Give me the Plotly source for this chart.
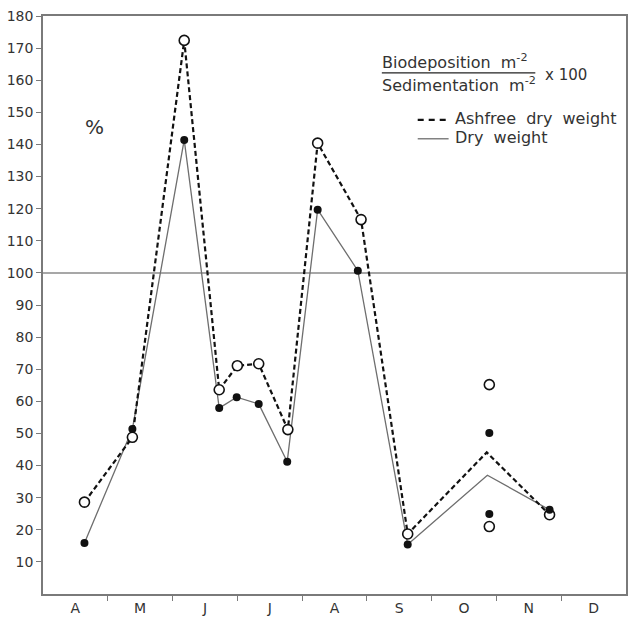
import plotly.graph_objects as go

# ---- data ----
month_labels = ["A", "M", "J", "J", "A", "S", "O", "N", "D"]
month_centers = [0.5, 1.5, 2.5, 3.5, 4.5, 5.5, 6.5, 7.5, 8.5]
month_bounds = [1, 2, 3, 4, 5, 6, 7, 8]

y_ticks = [10, 20, 30, 40, 50, 60, 70, 80, 90, 100, 110, 120, 130, 140, 150, 160, 170, 180]

ashfree_x = [0.64, 1.38, 2.18, 2.72, 3.00, 3.33, 3.78, 4.24, 4.91, 5.63, 6.85, 7.82]
ashfree_y = [28.6, 48.8, 172.4, 63.6, 71.1, 71.7, 51.2, 140.4, 116.6, 18.7, 44.1, 24.7]
dry_x = [0.64, 1.38, 2.18, 2.72, 2.99, 3.33, 3.77, 4.24, 4.86, 5.63, 6.86, 7.82]
dry_y = [15.9, 51.4, 141.4, 57.9, 61.3, 59.2, 41.2, 119.7, 100.7, 15.4, 37.0, 26.2]

# November: line vertex is the mean of two replicate samples (no marker at vertex)
nov_index = 10
nov_x = 6.89
ashfree_nov = [65.2, 21.0]
dry_nov = [50.1, 24.9]

ref_level = 100

legend_names = ["Ashfree\u00a0\u00a0dry\u00a0\u00a0weight", "Dry\u00a0\u00a0weight"]

FONT = "DejaVu Sans"
AX = "#7a7a7a"
TXT = "#333333"
DASH_COLOR = "#111111"
SOLID_COLOR = "#6e6e6e"

W, H = 629, 617
L, R, T, B = 43, 1, 16, 22


def px(xpix):
    return (xpix - L) / (W - L - R)


def py(ypix):
    return (H - B - ypix) / (H - B - T)


fig = go.Figure()

fig.add_trace(go.Scatter(
    x=dry_x, y=dry_y, mode="lines", name="Dry weight",
    line=dict(color=SOLID_COLOR, width=1.3),
))
fig.add_trace(go.Scatter(
    x=ashfree_x, y=ashfree_y, mode="lines", name="Ashfree dry weight",
    line=dict(color=DASH_COLOR, width=2.2, dash="5px,3px"),
))

open_x = [v for i, v in enumerate(ashfree_x) if i != nov_index] + [nov_x] * len(ashfree_nov)
open_y = [v for i, v in enumerate(ashfree_y) if i != nov_index] + ashfree_nov
fill_x = [v for i, v in enumerate(dry_x) if i != nov_index] + [nov_x] * len(dry_nov)
fill_y = [v for i, v in enumerate(dry_y) if i != nov_index] + dry_nov

fig.add_trace(go.Scatter(
    x=open_x, y=open_y, mode="markers",
    marker=dict(symbol="circle", size=10, color="white", line=dict(color="#111111", width=1.6)),
))
fig.add_trace(go.Scatter(
    x=fill_x, y=fill_y, mode="markers",
    marker=dict(symbol="circle", size=8, color="#111111", line=dict(width=0)),
))

# reference line at 100 %
fig.add_shape(type="line", xref="paper", x0=0, x1=1, yref="y", y0=ref_level, y1=ref_level,
              line=dict(color="#8a8a8a", width=1.5), layer="below")

# fraction bar
fig.add_shape(type="line", xref="paper", yref="paper", x0=px(383), x1=px(537), y0=py(73), y1=py(73),
              line=dict(color="#222222", width=1.3))

ann_font = dict(family=FONT, size=16, color=TXT)
fig.add_annotation(xref="paper", yref="paper", x=px(381), y=py(62), xanchor="left", yanchor="middle",
                   text="Biodeposition\u00a0\u00a0m<sup>-2</sup>", showarrow=False, font=ann_font)
fig.add_annotation(xref="paper", yref="paper", x=px(381), y=py(85), xanchor="left", yanchor="middle",
                   text="Sedimentation\u00a0\u00a0m<sup>-2</sup>", showarrow=False, font=ann_font)
fig.add_annotation(xref="paper", yref="paper", x=px(545), y=py(75), xanchor="left", yanchor="middle",
                   text="x\u00a0100", showarrow=False, font=dict(family=FONT, size=15, color=TXT))
fig.add_annotation(xref="paper", yref="paper", x=px(95), y=py(127), xanchor="center", yanchor="middle",
                   text="%", showarrow=False, font=dict(family=FONT, size=20, color=TXT))

# key
fig.add_shape(type="line", xref="paper", yref="paper", x0=px(419), x1=px(450), y0=py(120), y1=py(120),
              line=dict(color=DASH_COLOR, width=2.2, dash="6px,5px"))
fig.add_shape(type="line", xref="paper", yref="paper", x0=px(419), x1=px(450), y0=py(139), y1=py(139),
              line=dict(color=SOLID_COLOR, width=1.3))
key_font = dict(family=FONT, size=16, color=TXT)
fig.add_annotation(xref="paper", yref="paper", x=px(454), y=py(119), xanchor="left", yanchor="middle",
                   text=legend_names[0], showarrow=False, font=key_font)
fig.add_annotation(xref="paper", yref="paper", x=px(454), y=py(138), xanchor="left", yanchor="middle",
                   text=legend_names[1], showarrow=False, font=key_font)

fig.update_layout(
    width=W, height=H,
    margin=dict(l=L, r=R, t=T, b=B, pad=0),
    paper_bgcolor="white", plot_bgcolor="white",
    font=dict(family=FONT, size=13, color=TXT),
    showlegend=False,
    xaxis=dict(
        range=[0, 9], showgrid=False, zeroline=False,
        showline=True, linecolor=AX, linewidth=1.5, mirror=True,
        tickvals=month_centers, ticktext=month_labels, ticks="",
        tickfont=dict(family=FONT, size=14, color=TXT),
        minor=dict(tickvals=month_bounds, ticks="outside", ticklen=5, tickcolor=AX, tickwidth=1.2),
        fixedrange=True,
    ),
    yaxis=dict(
        range=[0, 180], showgrid=False, zeroline=False,
        showline=True, linecolor=AX, linewidth=1.5, mirror=True,
        tickvals=y_ticks, ticks="outside", ticklen=5, tickcolor=AX, tickwidth=1.2,
        tickfont=dict(family=FONT, size=14, color=TXT),
        fixedrange=True,
    ),
)

fig.write_html("out.html")
